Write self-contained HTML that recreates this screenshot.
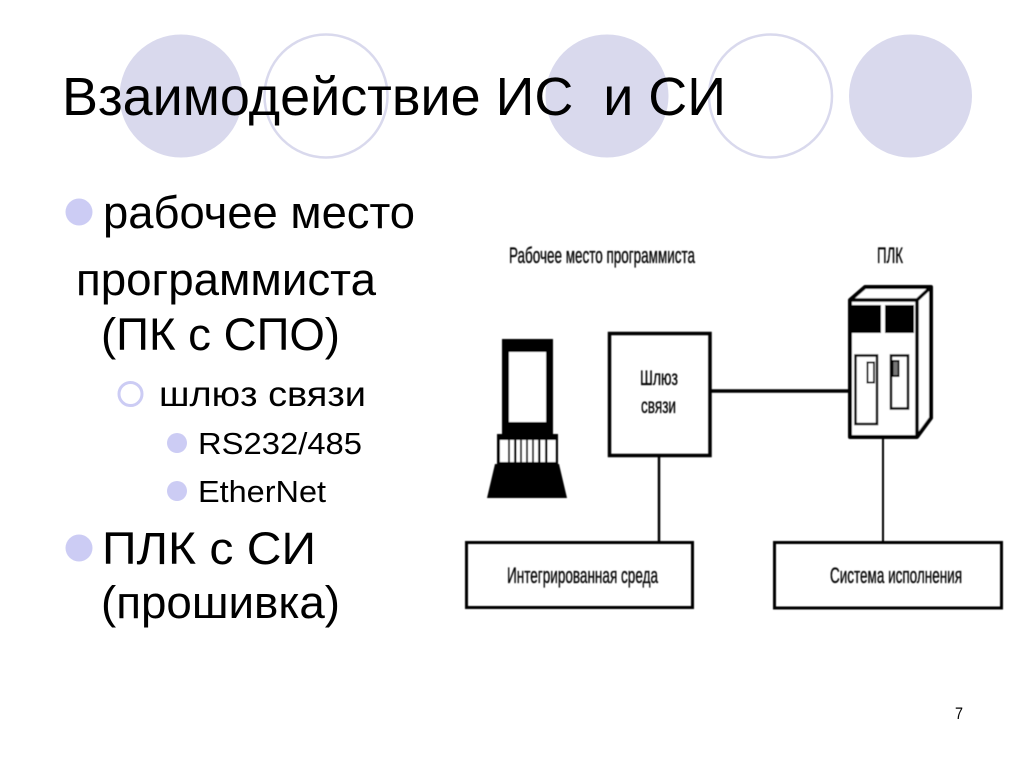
<!DOCTYPE html>
<html><head><meta charset="utf-8"><style>
html,body{margin:0;padding:0;background:#fff;width:1024px;height:768px;overflow:hidden}
svg{display:block}
text{font-family:"Liberation Sans","Noto Sans CJK SC",sans-serif;fill:#000}
</style></head><body>
<svg width="1024" height="768" viewBox="0 0 1024 768" xmlns="http://www.w3.org/2000/svg">
<defs><filter id="b" x="-5%" y="-5%" width="110%" height="110%"><feGaussianBlur stdDeviation="0.6"/></filter></defs>
<circle cx="181" cy="96" r="61.5" fill="#d9d9ed"/>
<circle cx="326" cy="96" r="61.5" fill="#fff" stroke="#d9d9ed" stroke-width="2.5"/>
<circle cx="607" cy="96" r="61.5" fill="#d9d9ed"/>
<circle cx="770.5" cy="96" r="61.5" fill="#fff" stroke="#d9d9ed" stroke-width="2.5"/>
<circle cx="910.5" cy="96" r="61.5" fill="#d9d9ed"/>
<text x="62" y="115" font-size="54" textLength="664" lengthAdjust="spacingAndGlyphs" xml:space="preserve">Взаимодействие ИС  и СИ</text>

<circle cx="79" cy="212" r="13.5" fill="#ccccf4"/>
<text x="103" y="228" font-size="45" textLength="312" lengthAdjust="spacingAndGlyphs">рабочее место</text>
<text x="76" y="295" font-size="45" textLength="300" lengthAdjust="spacingAndGlyphs">программиста</text>
<text x="101" y="350" font-size="45" textLength="239" lengthAdjust="spacingAndGlyphs">(ПК с СПО)</text>
<circle cx="130.500" cy="394" r="11.500" fill="#fff" stroke="#ccccf4" stroke-width="3"/>
<text x="159" y="406" font-size="35" textLength="207" lengthAdjust="spacingAndGlyphs">шлюз связи</text>
<circle cx="177" cy="443" r="10" fill="#ccccf4"/>
<text x="198" y="454" font-size="31" textLength="164" lengthAdjust="spacingAndGlyphs">RS232/485</text>
<circle cx="177" cy="491" r="10" fill="#ccccf4"/>
<text x="198" y="502" font-size="31" textLength="128" lengthAdjust="spacingAndGlyphs">EtherNet</text>
<circle cx="79" cy="548" r="13.5" fill="#ccccf4"/>
<text x="102" y="564" font-size="45" textLength="214" lengthAdjust="spacingAndGlyphs">ПЛК с СИ</text>
<text x="101" y="618" font-size="45" textLength="239" lengthAdjust="spacingAndGlyphs">(прошивка)</text>
<text x="955" y="719" font-size="17" textLength="8" lengthAdjust="spacingAndGlyphs">7</text>

<g filter="url(#b)">
<g fill="none" stroke="#000">
<rect x="609.500" y="333.500" width="100.500" height="122" stroke-width="3.500"/>
<path d="M711 391H850" stroke-width="3.500"/>
<path d="M659 456V543" stroke-width="2.500"/>
<path d="M883 438V543" stroke-width="2"/>
<rect x="466.500" y="542.500" width="226" height="65" stroke-width="3"/>
<rect x="774.500" y="542.500" width="227" height="65.500" stroke-width="3"/>
</g>
<path d="M502 339H553V434H558V464H559L567 498H487L495 464H497V434H502Z" fill="#000"/>
<rect x="509" y="352" width="37" height="70" fill="#fff"/>
<g fill="#fff">
<rect x="500" y="440" width="8" height="22"/><rect x="510" y="440" width="4" height="22"/><rect x="516.500" y="440" width="3.500" height="22"/><rect x="522" y="440" width="4" height="22"/><rect x="528" y="440" width="4" height="22"/><rect x="534" y="440" width="4" height="22"/><rect x="540.500" y="440" width="4.500" height="22"/><rect x="547.500" y="440" width="8" height="22"/>
</g>
<path d="M850 300L865 287H931V418L917 437H850Z" fill="#fff" stroke="#000" stroke-width="4" stroke-linejoin="round"/>
<path d="M850 300H917V437M917 300L931 287" fill="none" stroke="#000" stroke-width="3.500"/>
<rect x="852" y="305" width="29" height="28" fill="#000"/>
<rect x="885" y="305" width="29" height="28" fill="#000"/>
<rect x="855.500" y="355.500" width="21.500" height="68.500" fill="#fff" stroke="#000" stroke-width="2.500"/>
<rect x="867.500" y="362.500" width="6.500" height="20" fill="#fff" stroke="#000" stroke-width="2"/>
<rect x="891" y="355.500" width="17" height="53" fill="#fff" stroke="#000" stroke-width="2.500"/>
<rect x="892.500" y="361" width="6" height="15" fill="#777" stroke="#000" stroke-width="2"/>
<g stroke="#000" stroke-width="0.35">
<text x="509" y="263" font-size="22" textLength="186" lengthAdjust="spacingAndGlyphs">Рабочее место программиста</text>
<text x="877" y="263" font-size="22" textLength="26" lengthAdjust="spacingAndGlyphs">ПЛК</text>
<text x="640" y="385" font-size="21" textLength="38" lengthAdjust="spacingAndGlyphs">Шлюз</text>
<text x="641" y="413" font-size="21" textLength="35" lengthAdjust="spacingAndGlyphs">связи</text>
<text x="507" y="583" font-size="22" textLength="151" lengthAdjust="spacingAndGlyphs">Интегрированная среда</text>
<text x="830" y="583" font-size="22" textLength="132" lengthAdjust="spacingAndGlyphs">Система исполнения</text>
</g>
</g>
</svg>
</body></html>
